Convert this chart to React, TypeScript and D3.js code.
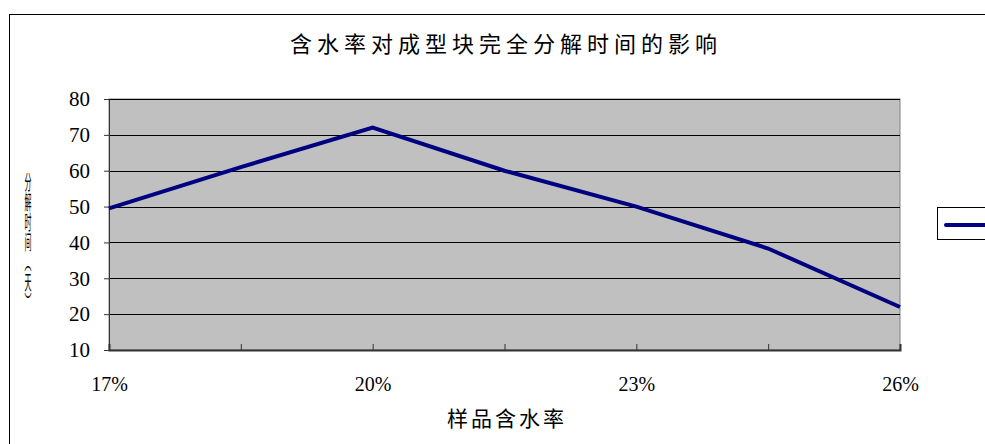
import React, { useEffect, useRef } from 'react';
import * as d3 from 'd3';

// moisture content categories (every other one labelled on the axis)
const categories = ['17%', '18.5%', '20%', '21.5%', '23%', '24.5%', '26%'];
const shownLabels = ['17%', '20%', '23%', '26%'];
const decompTime = [49.5, 61, 72, 60, 50, 38.3, 22];
const yTicks = [10, 20, 30, 40, 50, 60, 70, 80];

const title = '含水率对成型块完全分解时间的影响';
const xTitle = '样品含水率';
const yTitle = '分解时间（天）';

function App() {
  const svgRef = useRef<SVGSVGElement>(null);
  const width = 985;
  const height = 444;

  useEffect(() => {
    if (!svgRef.current) return;
    const svg = d3.select(svgRef.current);
    svg.selectAll('*').remove();

    const plot = { left: 109, right: 900, top: 99, bottom: 350 };
    const serif = '"Liberation Serif", "DejaVu Serif", serif';
    const cjk = '"Noto Sans CJK SC", sans-serif';

    // outer chart border (runs off right/bottom edge)
    svg.append('rect')
      .attr('x', 9.5).attr('y', 14.5)
      .attr('width', 1000).attr('height', 460)
      .attr('fill', '#fff')
      .attr('stroke', '#000').attr('stroke-width', 1);

    const x = d3.scalePoint<string>()
      .domain(categories)
      .range([plot.left, plot.right])
      .padding(0);

    const y = d3.scaleLinear()
      .domain([10, 80])
      .range([plot.bottom, plot.top]);

    // plot background
    svg.append('rect')
      .attr('x', plot.left).attr('y', plot.top)
      .attr('width', plot.right - plot.left)
      .attr('height', plot.bottom - plot.top)
      .attr('fill', '#c0c0c0')
      .attr('stroke', '#808080').attr('stroke-width', 1);

    // gridlines
    svg.append('g')
      .selectAll('line')
      .data(yTicks.filter(t => t > 10))
      .enter().append('line')
      .attr('x1', plot.left).attr('x2', plot.right)
      .attr('y1', d => Math.round(y(d)) + 0.5)
      .attr('y2', d => Math.round(y(d)) + 0.5)
      .attr('stroke', '#000').attr('stroke-width', 1);

    // y axis
    const yAxis = svg.append('g')
      .attr('transform', `translate(${plot.left},0)`)
      .call(d3.axisLeft(y).tickValues(yTicks).tickSize(5).tickPadding(14));
    yAxis.select('.domain').attr('stroke', '#333');
    yAxis.selectAll('line').attr('stroke', '#333');
    yAxis.selectAll('text')
      .attr('fill', '#000')
      .style('font-family', serif)
      .style('font-size', '21px');

    // x axis (ticks point up into the plot)
    const xAxis = svg.append('g')
      .attr('transform', `translate(0,${plot.bottom})`)
      .call(d3.axisBottom(x).tickSize(-6).tickPadding(27)
        .tickFormat(d => (shownLabels.includes(d) ? d : '')));
    xAxis.select('.domain').attr('stroke', '#333').attr('stroke-width', 2);
    xAxis.selectAll('line').attr('stroke', '#333');
    xAxis.selectAll('text')
      .attr('fill', '#000')
      .style('font-family', serif)
      .style('font-size', '20px');

    // line
    const line = d3.line<number>()
      .x((_, i) => x(categories[i]) as number)
      .y(d => y(d));

    svg.append('path')
      .datum(decompTime)
      .attr('fill', 'none')
      .attr('stroke', '#000080')
      .attr('stroke-width', 4)
      .attr('stroke-linejoin', 'miter')
      .attr('d', line);

    // title
    svg.append('text')
      .attr('x', 506).attr('y', 52)
      .attr('text-anchor', 'middle')
      .style('font-family', cjk)
      .style('font-size', '22px')
      .style('letter-spacing', '5px')
      .attr('fill', '#000')
      .text(title);

    // x title
    svg.append('text')
      .attr('x', 507).attr('y', 426)
      .attr('text-anchor', 'middle')
      .style('font-family', cjk)
      .style('font-size', '21px')
      .style('letter-spacing', '3px')
      .attr('fill', '#000')
      .text(xTitle);

    // y title, squashed vertical text
    svg.append('g')
      .attr('transform', 'translate(28,172) scale(0.35,1)')
      .append('text')
      .attr('x', 0).attr('y', 0)
      .style('writing-mode', 'vertical-rl')
      .style('font-family', cjk)
      .style('font-size', '20px')
      .attr('fill', '#000')
      .text(yTitle);

    // legend
    svg.append('rect')
      .attr('x', 937.5).attr('y', 207.5)
      .attr('width', 80).attr('height', 32)
      .attr('fill', '#fff')
      .attr('stroke', '#000').attr('stroke-width', 1);
    svg.append('line')
      .attr('x1', 946).attr('x2', 1000)
      .attr('y1', 225).attr('y2', 225)
      .attr('stroke', '#000080')
      .attr('stroke-width', 4)
      .attr('stroke-linecap', 'round');
  }, []);

  return (
    <svg
      ref={svgRef}
      width={width}
      height={height}
      style={{ position: 'absolute', left: 0, top: 0, display: 'block' }}
    />
  );
}

export default App;
